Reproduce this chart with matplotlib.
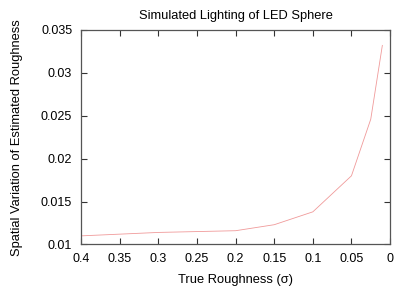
import matplotlib
matplotlib.use("Agg")
import matplotlib.pyplot as plt

true_roughness = [0.4, 0.35, 0.3, 0.25, 0.2, 0.15, 0.1, 0.05, 0.025, 0.01]
spatial_variation = [0.0110, 0.0112, 0.0114, 0.0115, 0.0116, 0.0123, 0.0138, 0.0180, 0.0246, 0.0332]
x_ticks = [0.4, 0.35, 0.3, 0.25, 0.2, 0.15, 0.1, 0.05, 0]
x_tick_labels = ["0.4", "0.35", "0.3", "0.25", "0.2", "0.15", "0.1", "0.05", "0"]
y_ticks = [0.01, 0.015, 0.02, 0.025, 0.03, 0.035]
y_tick_labels = ["0.01", "0.015", "0.02", "0.025", "0.03", "0.035"]

plt.rcParams['font.family'] = ['Liberation Sans', 'DejaVu Sans']
plt.rcParams['font.size'] = 9

fig = plt.figure(figsize=(3.96, 2.91), dpi=100)
ax = fig.add_axes([0.205, 0.16, 0.78, 0.737])
ax.plot(true_roughness, spatial_variation, color='#f09a9a', linewidth=0.6)
ax.set_xlim(0.4, 0)
ax.set_ylim(0.01, 0.035)
ax.set_xticks(x_ticks)
ax.set_xticklabels(x_tick_labels)
ax.set_yticks(y_ticks)
ax.set_yticklabels(y_tick_labels)
ax.tick_params(axis='both', direction='in', length=4, width=0.8, top=True, right=True, color='#333333')
ax.tick_params(axis='y', pad=6.5)
ax.tick_params(axis='x', pad=6)
for s in ax.spines.values():
    s.set_color('#555555')
    s.set_linewidth(0.9)
ax.set_title("Simulated Lighting of LED Sphere", fontsize=9.3, pad=8)
ax.set_xlabel("True Roughness (σ)", fontsize=9.3, labelpad=7)
ax.set_ylabel("Spatial Variation of Estimated Roughness", fontsize=9.3, labelpad=13)
fig.savefig("out.png", dpi=100)
